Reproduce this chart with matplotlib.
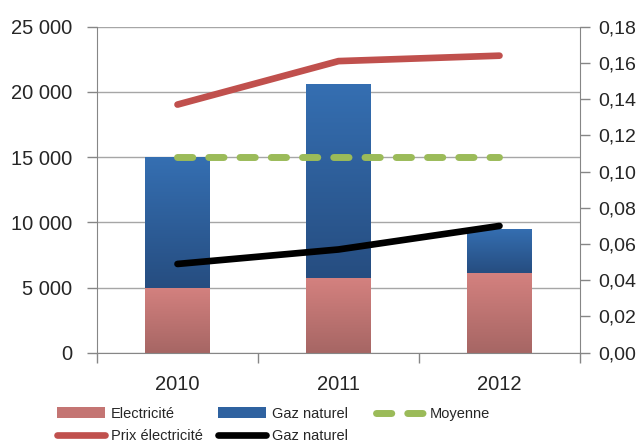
import matplotlib
matplotlib.use('Agg')
import matplotlib.pyplot as plt
import numpy as np
from matplotlib.colors import LinearSegmentedColormap
from matplotlib.lines import Line2D
from matplotlib.patches import Patch

plt.rcParams['font.family'] = ['Liberation Sans', 'DejaVu Sans']

# données
annees = ['2010', '2011', '2012']
electricite = [5000, 5700, 6100]
gaz = [10000, 14900, 3400]
prix_elec = [0.137, 0.161, 0.164]
prix_gaz = [0.049, 0.057, 0.070]
left_ticks = [0, 5000, 10000, 15000, 20000, 25000]
right_ticks = [0.00, 0.02, 0.04, 0.06, 0.08, 0.10, 0.12, 0.14, 0.16, 0.18]

totaux = [e + g for e, g in zip(electricite, gaz)]
moyenne = [np.mean(totaux)] * len(annees)

txt = '#262626'
grid_col = '#A6A6A6'

fig = plt.figure(figsize=(6.44, 4.42), dpi=100)
ax = fig.add_axes([0.1506, 0.202, 0.75, 0.7376])
x = np.arange(len(annees))


def degrade(ax, bars, haut, bas):
    # remplissage en dégradé comme Excel
    cmap = LinearSegmentedColormap.from_list('g', [bas, haut])
    grad = np.linspace(0, 1, 256).reshape(-1, 1)
    for b in bars:
        x0, y0 = b.get_xy()
        im = ax.imshow(grad, extent=(x0, x0 + b.get_width(), y0, y0 + b.get_height()),
                       origin='lower', aspect='auto', cmap=cmap, zorder=2)
        im.set_clip_path(b)
        b.set_facecolor('none')


b1 = ax.bar(x, electricite, 0.40, color='#C47573', zorder=2, linewidth=0)
b2 = ax.bar(x, gaz, 0.40, bottom=electricite, color='#2F62A0', zorder=2, linewidth=0)
degrade(ax, b1, '#D4817F', '#A66664')
degrade(ax, b2, '#356FB2', '#264D80')

ax.plot(x, moyenne, color='#9BBB59', lw=5, dashes=(2.2, 2.3),
        dash_capstyle='round', zorder=4)

ax.set_xlim(-0.5, 2.5)
ax.set_ylim(0, 25000)
ax.set_yticks(left_ticks)
ax.set_yticklabels(['0' if v == 0 else '{:,}'.format(v).replace(',', ' ') for v in left_ticks])
ax.set_xticks(x)
ax.set_xticklabels(annees)
ax.set_xticks([-0.5, 0.5, 1.5, 2.5], minor=True)
ax.tick_params(axis='x', which='major', length=0, pad=16, labelsize=14.5, colors=txt)
ax.tick_params(axis='x', which='minor', length=7, width=1, color='#868686')
ax.tick_params(axis='y', length=7, width=1, color='#868686', pad=11,
               labelsize=14.5, labelcolor=txt)
ax.grid(axis='y', color=grid_col, lw=1)
ax.set_axisbelow(True)
for s in ['top', 'right']:
    ax.spines[s].set_visible(False)
for s in ['left', 'bottom']:
    ax.spines[s].set_color('#868686')

ax2 = ax.twinx()
ax2.plot(x, prix_elec, color='#C0504D', lw=4.8, solid_capstyle='round', zorder=3)
ax2.plot(x, prix_gaz, color='black', lw=4.8, solid_capstyle='round', zorder=3)
ax2.set_ylim(0, 0.18)
ax2.set_yticks(right_ticks)
ax2.set_yticklabels(['{:.2f}'.format(v).replace('.', ',') for v in right_ticks])
ax2.tick_params(axis='y', length=7, width=1, color='#868686', pad=6,
                labelsize=14, labelcolor=txt)
for s in ['top', 'left', 'bottom']:
    ax2.spines[s].set_visible(False)
ax2.spines['right'].set_color('#868686')

# légende en trois colonnes
h_elec = Patch(facecolor='#C47573', edgecolor='none')
h_gaz = Patch(facecolor='#2F62A0', edgecolor='none')
h_prix = Line2D([], [], color='#C0504D', lw=4.8, solid_capstyle='round')
h_gazl = Line2D([], [], color='black', lw=4.8, solid_capstyle='round')
h_moy = Line2D([], [], color='#9BBB59', lw=5, dashes=(2.2, 2.3), dash_capstyle='round')

cols = [([h_elec, h_prix], ['Electricité', 'Prix électricité'], 57),
        ([h_gaz, h_gazl], ['Gaz naturel', 'Gaz naturel'], 218),
        ([h_moy], ['Moyenne'], 376)]
for hs, ls, px in cols:
    fig.legend(hs, ls, loc='upper left', bbox_to_anchor=(px / 644, 0.080),
               frameon=False, fontsize=10.5, handlelength=3.3, handletextpad=0.4,
               labelspacing=0.6, borderpad=0, borderaxespad=0, labelcolor=txt)

fig.savefig('out.png', dpi=100)
